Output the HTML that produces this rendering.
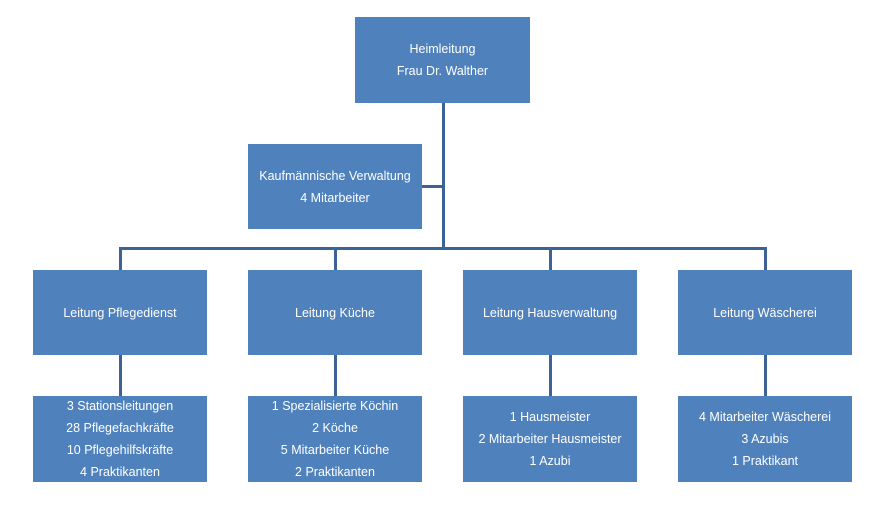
<!DOCTYPE html>
<html><head><meta charset="utf-8"><style>
body{margin:0;background:#fff;width:888px;height:514px;position:relative;overflow:hidden;font-family:"Liberation Sans",sans-serif}
.b{position:absolute;background:#4F81BD;color:#fff;font-size:12.5px;line-height:22px;display:flex;flex-direction:column;justify-content:center;align-items:center;text-align:center;width:174px;height:86px}
.l{position:absolute;background:#3D6396}
</style></head><body>
<div class="l" style="left:442px;top:103px;width:3px;height:147px"></div>
<div class="l" style="left:421px;top:185px;width:22px;height:3px"></div>
<div class="l" style="left:119px;top:247px;width:648px;height:3px"></div>
<div class="l" style="left:119px;top:247px;width:3px;height:23px"></div>
<div class="l" style="left:334px;top:247px;width:3px;height:23px"></div>
<div class="l" style="left:549px;top:247px;width:3px;height:23px"></div>
<div class="l" style="left:764px;top:247px;width:3px;height:23px"></div>
<div class="l" style="left:119px;top:355px;width:3px;height:41px"></div>
<div class="l" style="left:334px;top:355px;width:3px;height:41px"></div>
<div class="l" style="left:549px;top:355px;width:3px;height:41px"></div>
<div class="l" style="left:764px;top:355px;width:3px;height:41px"></div>
<div class="b" style="left:355px;top:17px;width:175px"><div>Heimleitung</div><div>Frau Dr. Walther</div></div>
<div class="b" style="left:248px;top:144px;height:85px"><div>Kaufmännische Verwaltung</div><div>4 Mitarbeiter</div></div>
<div class="b" style="left:33px;top:270px;height:85px">Leitung Pflegedienst</div>
<div class="b" style="left:248px;top:270px;height:85px">Leitung Küche</div>
<div class="b" style="left:463px;top:270px;height:85px">Leitung Hausverwaltung</div>
<div class="b" style="left:678px;top:270px;height:85px">Leitung Wäscherei</div>
<div class="b" style="left:33px;top:396px"><div>3 Stationsleitungen</div><div>28 Pflegefachkräfte</div><div>10 Pflegehilfskräfte</div><div>4 Praktikanten</div></div>
<div class="b" style="left:248px;top:396px"><div>1 Spezialisierte Köchin</div><div>2 Köche</div><div>5 Mitarbeiter Küche</div><div>2 Praktikanten</div></div>
<div class="b" style="left:463px;top:396px"><div>1 Hausmeister</div><div>2 Mitarbeiter Hausmeister</div><div>1 Azubi</div></div>
<div class="b" style="left:678px;top:396px"><div>4 Mitarbeiter Wäscherei</div><div>3 Azubis</div><div>1 Praktikant</div></div>
</body></html>
